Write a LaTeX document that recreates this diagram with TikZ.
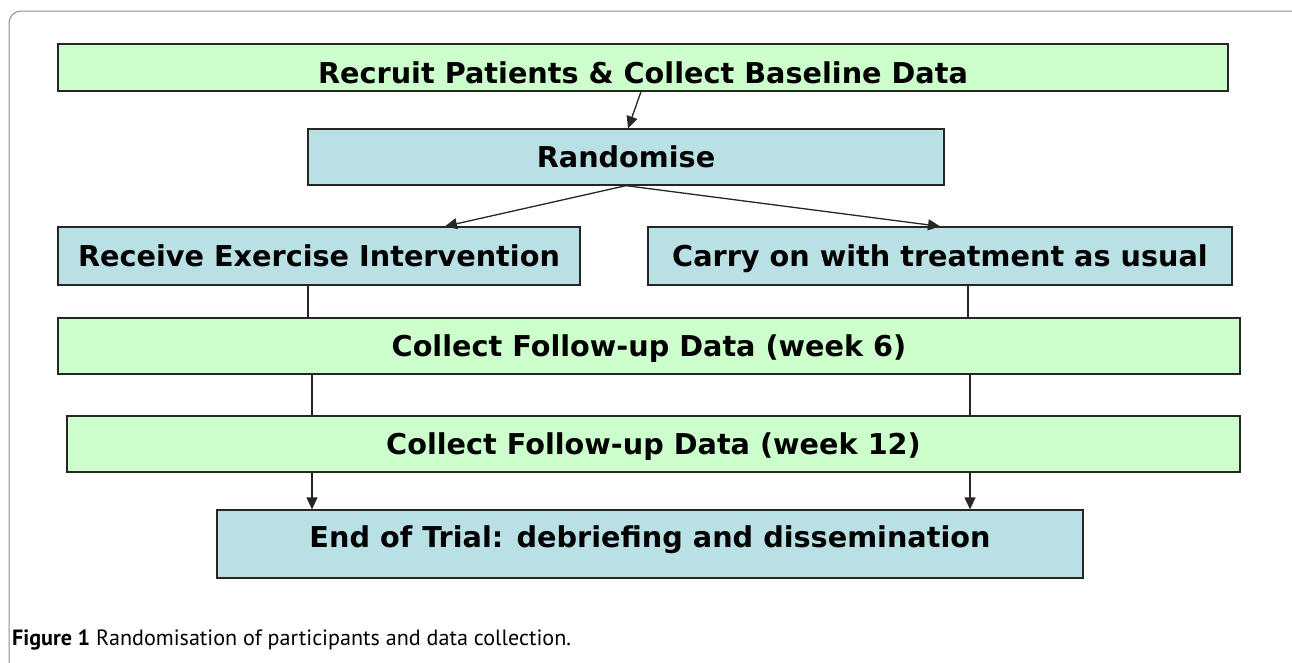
\documentclass[tikz,border=0pt]{standalone}
\usepackage{fontspec}
\setmainfont{DejaVu Sans}
\newfontfamily\capfont{PT Sans}
\usetikzlibrary{arrows.meta}
\definecolor{stagegreen}{RGB}{204,255,204}
\definecolor{stageblue}{RGB}{185,224,228}
\tikzset{
  stage/.style={draw=black!85, line width=1.3pt, inner sep=0pt,
    font=\fontsize{28.7}{32}\selectfont\bfseries, text height=20.9pt, text depth=0pt},
  greenstage/.style={stage, fill=stagegreen},
  bluestage/.style={stage, fill=stageblue},
  link/.style={line width=1.3pt, black!85}
}
\begin{document}
\begin{tikzpicture}[x=1pt, y=-1pt, >={Triangle[length=12pt,width=11pt]}]
        \useasboundingbox (0,0) rectangle (1292,662);
        \begin{scope}
          \clip (0,0) rectangle (1292,662);
          \draw[black!45, line width=1pt, rounded corners=12pt] (9,11) rectangle (1310,700);
        \end{scope}

        \node (recruit) at (643, 67.5) [greenstage, minimum width=1170pt, minimum height=47pt, text height=31pt] {Recruit Patients \& Collect Baseline Data};
        \node (rand) at (626, 157) [bluestage, minimum width=636pt, minimum height=56pt] {Randomise};
        \node (rcv) at (319, 256) [bluestage, minimum width=522pt, minimum height=58pt] {Receive Exercise Intervention};
        \node (carry) at (940, 256) [bluestage, minimum width=584pt, minimum height=58pt] {Carry on with treatment as usual};
        \node (wk6) at (649, 346) [greenstage, minimum width=1182pt, minimum height=56pt] {Collect Follow-up Data (week 6)};
        \node (wk12) at (653.5, 444) [greenstage, minimum width=1173pt, minimum height=56pt] {Collect Follow-up Data (week 12)};
        \node (end) at (650, 544) [bluestage, minimum width=866pt, minimum height=68pt, text depth=13pt] {End of Trial: debriefing and dissemination};

        \coordinate (lx1) at (308, 0);
        \coordinate (rx1) at (968, 0);
        \coordinate (lx2) at (312, 0);
        \coordinate (rx2) at (970, 0);

        \draw[link, ->] ([xshift=-2pt]recruit.south) -- ([xshift=2pt]rand.north);
        \draw[link, ->] (rand.south) -- ([xshift=126pt]rcv.north);
        \draw[link, ->] (rand.south) -- (carry.north);

        \draw[link] (rcv.south -| lx1) -- (wk6.north -| lx1);
        \draw[link] (carry.south -| rx1) -- (wk6.north -| rx1);
        \draw[link] (wk6.south -| lx2) -- (wk12.north -| lx2);
        \draw[link] (wk6.south -| rx2) -- (wk12.north -| rx2);
        \draw[link, ->] (wk12.south -| lx2) -- (end.north -| lx2);
        \draw[link, ->] (wk12.south -| rx2) -- (end.north -| rx2);

        \node (caption) at (12, 645) [anchor=base west, inner sep=0pt, font=\capfont\fontsize{22.1}{25}\selectfont] {\textbf{Figure 1} Randomisation of participants and data collection.};
\end{tikzpicture}
\end{document}
